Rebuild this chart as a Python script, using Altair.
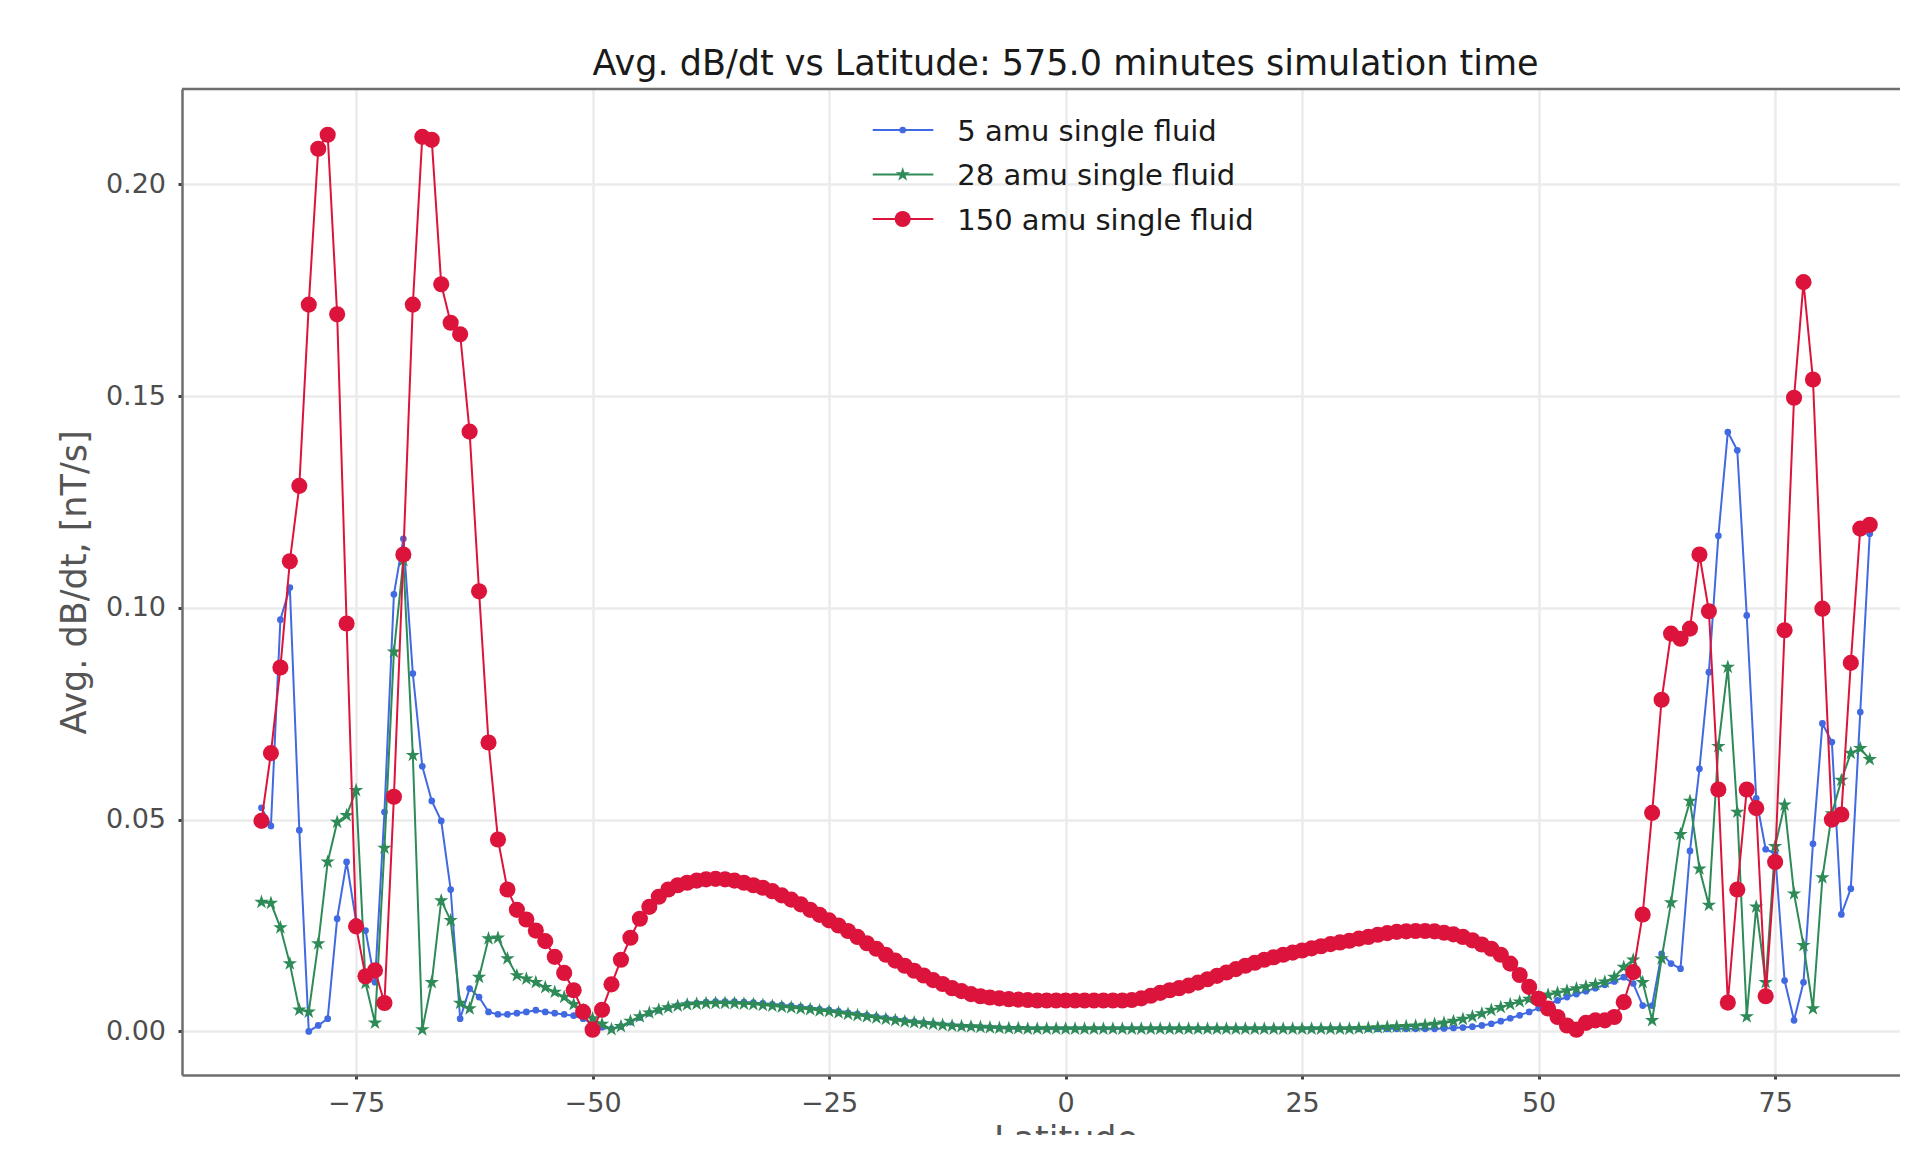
import altair as alt
import pandas as pd

# ---------------- data ----------------
lat = list(range(-85, 86))

amu5 = [
    0.0528, 0.0485, 0.0972, 0.1048, 0.0475, 0.0000, 0.0014, 0.0030, 0.0266, 0.0400,
    0.0260, 0.0238, 0.0116, 0.0518, 0.1032, 0.1163, 0.0845, 0.0626, 0.0544, 0.0497,
    0.0335, 0.0030, 0.0101, 0.0081, 0.0046, 0.0040, 0.0040, 0.0043, 0.0046, 0.0050,
    0.0046, 0.0043, 0.0040, 0.0037, 0.0030, 0.0018, 0.0010, 0.0006, 0.0012, 0.0022,
    0.0033, 0.0043, 0.0050, 0.0056, 0.0061, 0.0065, 0.0067, 0.0069, 0.0070, 0.0070,
    0.0070, 0.0069, 0.0068, 0.0066, 0.0064, 0.0062, 0.0060, 0.0058, 0.0055, 0.0052,
    0.0050, 0.0047, 0.0044, 0.0041, 0.0038, 0.0035, 0.0032, 0.0029, 0.0026, 0.0023,
    0.0020, 0.0018, 0.0016, 0.0014, 0.0012, 0.0011, 0.0010, 0.0009, 0.0008, 0.0007,
    0.0007, 0.0006, 0.0006, 0.0006, 0.0006, 0.0006, 0.0006, 0.0006, 0.0006, 0.0006,
    0.0006, 0.0006, 0.0006, 0.0006, 0.0006, 0.0006, 0.0006, 0.0006, 0.0006, 0.0006,
    0.0006, 0.0006, 0.0006, 0.0006, 0.0006, 0.0006, 0.0006, 0.0006, 0.0006, 0.0006,
    0.0006, 0.0006, 0.0006, 0.0006, 0.0006, 0.0006, 0.0006, 0.0006, 0.0006, 0.0006,
    0.0006, 0.0006, 0.0006, 0.0006, 0.0006, 0.0007, 0.0008, 0.0009, 0.0011, 0.0014,
    0.0018, 0.0024, 0.0031, 0.0038, 0.0046, 0.0055, 0.0064, 0.0073, 0.0081, 0.0088,
    0.0095, 0.0102, 0.0110, 0.0118, 0.0128, 0.0113, 0.0061, 0.0061, 0.0183, 0.0160,
    0.0148, 0.0426, 0.0620, 0.0848, 0.1170, 0.1415, 0.1372, 0.0982, 0.0550, 0.0430,
    0.0420, 0.0120, 0.0026, 0.0116, 0.0443, 0.0727, 0.0683, 0.0276, 0.0337, 0.0754, 0.1175,
]

amu28 = [
    0.0305, 0.0303, 0.0245, 0.0160, 0.0051, 0.0046, 0.0207, 0.0400, 0.0494, 0.0510,
    0.0569, 0.0114, 0.0020, 0.0433, 0.0896, 0.1112, 0.0652, 0.0004, 0.0116, 0.0309,
    0.0262, 0.0067, 0.0054, 0.0128, 0.0219, 0.0221, 0.0172, 0.0132, 0.0124, 0.0116,
    0.0104, 0.0093, 0.0081, 0.0064, 0.0050, 0.0030, 0.0017, 0.0005, 0.0012, 0.0024,
    0.0035, 0.0044, 0.0051, 0.0056, 0.0060, 0.0063, 0.0065, 0.0066, 0.0067, 0.0067,
    0.0066, 0.0065, 0.0064, 0.0062, 0.0060, 0.0058, 0.0056, 0.0054, 0.0052, 0.0049,
    0.0047, 0.0044, 0.0041, 0.0038, 0.0035, 0.0032, 0.0029, 0.0026, 0.0023, 0.0021,
    0.0019, 0.0017, 0.0015, 0.0013, 0.0012, 0.0011, 0.0010, 0.0009, 0.0008, 0.0007,
    0.0007, 0.0006, 0.0006, 0.0006, 0.0006, 0.0006, 0.0006, 0.0006, 0.0006, 0.0006,
    0.0006, 0.0006, 0.0006, 0.0006, 0.0006, 0.0006, 0.0006, 0.0006, 0.0006, 0.0006,
    0.0006, 0.0006, 0.0006, 0.0006, 0.0006, 0.0006, 0.0006, 0.0006, 0.0006, 0.0006,
    0.0006, 0.0006, 0.0006, 0.0006, 0.0006, 0.0006, 0.0007, 0.0008, 0.0009, 0.0010,
    0.0011, 0.0012, 0.0013, 0.0015, 0.0017, 0.0020, 0.0024, 0.0029, 0.0035, 0.0042,
    0.0050, 0.0057, 0.0064, 0.0070, 0.0076, 0.0081, 0.0086, 0.0091, 0.0096, 0.0101,
    0.0106, 0.0111, 0.0117, 0.0128, 0.0152, 0.0169, 0.0116, 0.0026, 0.0172, 0.0304,
    0.0465, 0.0544, 0.0384, 0.0298, 0.0673, 0.0860, 0.0518, 0.0035, 0.0294, 0.0116,
    0.0437, 0.0535, 0.0325, 0.0203, 0.0054, 0.0363, 0.0514, 0.0593, 0.0657, 0.0668, 0.0642,
]

amu150 = [
    0.0497, 0.0657, 0.0859, 0.1110, 0.1288, 0.1716, 0.2084, 0.2117, 0.1693, 0.0963,
    0.0248, 0.0130, 0.0144, 0.0067, 0.0554, 0.1126, 0.1716, 0.2112, 0.2105, 0.1764,
    0.1673, 0.1646, 0.1416, 0.1039, 0.0682, 0.0453, 0.0335, 0.0287, 0.0264, 0.0238,
    0.0213, 0.0176, 0.0138, 0.0097, 0.0046, 0.0004, 0.0051, 0.0111, 0.0169, 0.0221,
    0.0266, 0.0294, 0.0318, 0.0335, 0.0345, 0.0351, 0.0356, 0.0359, 0.0360, 0.0359,
    0.0356, 0.0351, 0.0345, 0.0339, 0.0331, 0.0321, 0.0311, 0.0300, 0.0287, 0.0275,
    0.0262, 0.0250, 0.0237, 0.0223, 0.0208, 0.0195, 0.0181, 0.0167, 0.0155, 0.0143,
    0.0132, 0.0121, 0.0112, 0.0102, 0.0095, 0.0088, 0.0083, 0.0080, 0.0078, 0.0076,
    0.0075, 0.0074, 0.0073, 0.0073, 0.0073, 0.0073, 0.0073, 0.0073, 0.0073, 0.0073,
    0.0073, 0.0073, 0.0074, 0.0078, 0.0084, 0.0091, 0.0097, 0.0102, 0.0108, 0.0115,
    0.0123, 0.0131, 0.0139, 0.0147, 0.0155, 0.0162, 0.0169, 0.0175, 0.0181, 0.0186,
    0.0191, 0.0196, 0.0201, 0.0206, 0.0210, 0.0214, 0.0219, 0.0223, 0.0228, 0.0232,
    0.0235, 0.0236, 0.0237, 0.0237, 0.0236, 0.0233, 0.0229, 0.0223, 0.0215, 0.0205,
    0.0195, 0.0181, 0.0160, 0.0133, 0.0105, 0.0077, 0.0054, 0.0034, 0.0014, 0.0004,
    0.0020, 0.0026, 0.0026, 0.0034, 0.0069, 0.0140, 0.0276, 0.0516, 0.0783, 0.0939,
    0.0927, 0.0951, 0.1126, 0.0992, 0.0571, 0.0068, 0.0335, 0.0571, 0.0527, 0.0083,
    0.0400, 0.0947, 0.1496, 0.1769, 0.1539, 0.0998, 0.0500, 0.0512, 0.0870, 0.1187, 0.1196,
]

series_names = ["5 amu single fluid", "28 amu single fluid", "150 amu single fluid"]
series_values = [amu5, amu28, amu150]

x_ticks = [-75, -50, -25, 0, 25, 50, 75]
y_ticks = [0.0, 0.05, 0.10, 0.15, 0.20]

title_text = "Avg. dB/dt vs Latitude: 575.0 minutes simulation time"
x_title = "Latitude"
y_title = "Avg. dB/dt, [nT/s]"

# ---------------- styles ----------------
series_colors = ["#4169E1", "#2E8B57", "#DC143C"]
STAR = ("M0,-1L0.2245,-0.309L0.951,-0.309L0.3633,0.118L0.5878,0.809L0,0.382"
        "L-0.5878,0.809L-0.3633,0.118L-0.951,-0.309L-0.2245,-0.309Z")
series_shapes = ["circle", STAR, "circle"]
series_sizes = [45, 230, 260]

W, H = 1718, 986
FONT = "DejaVu Sans"
SPINE = "#6e6e6e"
legend_rows = [41, 85.5, 130]
legend_line_x = (690.7, 751.3)
legend_marker_x = 720.7
legend_text_x = 775.3

x_enc = alt.X(
    "lat:Q",
    scale=alt.Scale(domain=[-93.4, 88.2], nice=False, zero=False),
    axis=alt.Axis(values=x_ticks, title=x_title, titleX=883.6, titleY=47.5,
                  titleBaseline="top"),
)
y_enc = alt.Y(
    "val:Q",
    scale=alt.Scale(domain=[-0.0103, 0.2225], nice=False, zero=False),
    axis=alt.Axis(values=y_ticks, format=".2f", title=y_title, titleX=-90,
                  titleBaseline="bottom"),
)

layers = []
for name, vals, col, shp, sz in zip(series_names, series_values, series_colors,
                                    series_shapes, series_sizes):
    df = pd.DataFrame({"lat": lat, "val": vals, "series": name})
    base = alt.Chart(df)
    layers.append(base.mark_line(color=col, strokeWidth=2).encode(x=x_enc, y=y_enc))
    layers.append(base.mark_point(filled=True, shape=shp, size=sz, color=col,
                                  opacity=1).encode(x=x_enc, y=y_enc))

# top spine
spine_df = pd.DataFrame({"k": [0]})
layers.append(alt.Chart(spine_df).mark_rule(color=SPINE, strokeWidth=2.5).encode(
    x=alt.value(0), x2=alt.value(W), y=alt.value(0)))

# legend (drawn manually to show line + marker like matplotlib)
for name, col, shp, sz, ry in zip(series_names, series_colors, series_shapes,
                                  series_sizes, legend_rows):
    ldf = pd.DataFrame({"label": [name]})
    lc = alt.Chart(ldf)
    layers.append(lc.mark_rule(color=col, strokeWidth=2).encode(
        x=alt.value(legend_line_x[0]), x2=alt.value(legend_line_x[1]), y=alt.value(ry)))
    layers.append(lc.mark_point(filled=True, shape=shp, size=sz, color=col, opacity=1).encode(
        x=alt.value(legend_marker_x), y=alt.value(ry)))
    layers.append(lc.mark_text(align="left", baseline="alphabetic", font=FONT,
                               fontSize=29, color="#1a1a1a").encode(
        x=alt.value(legend_text_x), y=alt.value(ry + 10.5), text="label:N"))

chart = alt.layer(*layers).properties(
    width=W,
    height=H,
    autosize=alt.AutoSizeParams(type="none"),
    padding={"left": 174, "top": 81, "right": 0, "bottom": 60},
    title=alt.TitleParams(text=title_text, font=FONT, fontSize=35, fontWeight="normal",
                          color="#1a1a1a", anchor="middle", frame="group", dx=24.6,
                          offset=6),
    background="white",
).configure_view(stroke=None).configure_axis(
    grid=True,
    gridColor="#ebebeb",
    gridWidth=2.5,
    domainColor=SPINE,
    domainWidth=2.5,
    tickColor="#444444",
    tickWidth=3,
    tickSize=4,
    labelFont=FONT,
    labelFontSize=27,
    labelColor="#4d4d4d",
    labelPadding=11.5,
    titleFont=FONT,
    titleFontSize=35,
    titleFontWeight="normal",
    titleColor="#555555",
).configure_axisY(labelPadding=12.5)

chart.save("out.html", embed_options={"renderer": "svg", "actions": False})
